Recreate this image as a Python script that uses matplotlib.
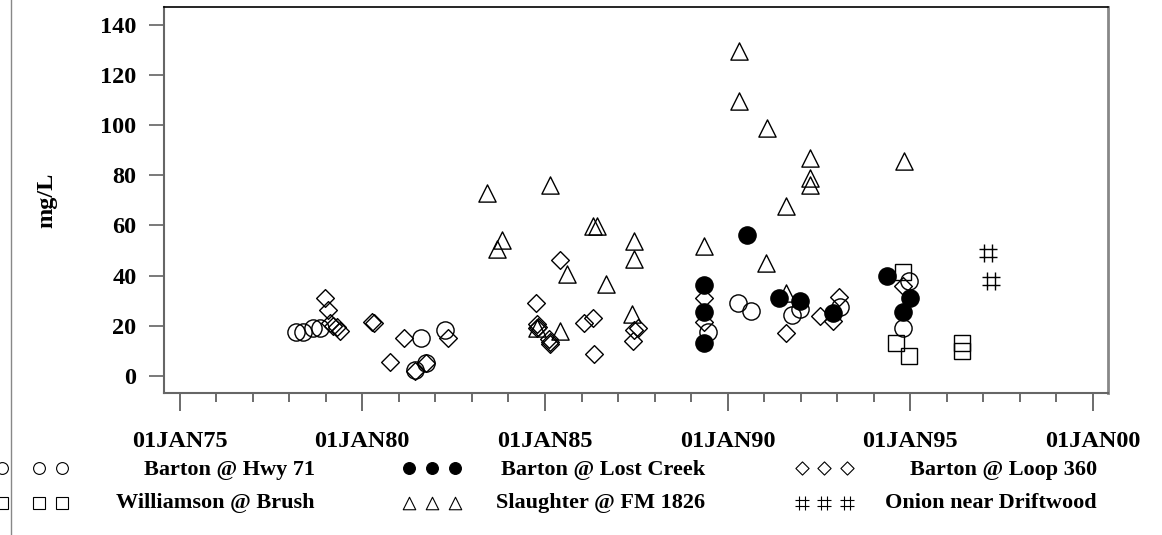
import matplotlib
matplotlib.use("Agg")
import matplotlib.pyplot as plt
from matplotlib.path import Path
from matplotlib.lines import Line2D

# ---------------- data (decimal years, mg/L) ----------------
hwy71_x = [1978.19, 1978.38, 1978.65, 1978.85, 1981.43, 1981.62, 1981.75, 1982.27,
           1989.45, 1990.27, 1990.64, 1991.76, 1991.98, 1993.07, 1994.80, 1994.97]
hwy71_y = [17.5, 17.5, 19.0, 19.2, 2.4, 15.0, 5.0, 18.3,
           17.5, 29.0, 26.0, 24.3, 26.8, 27.3, 19.0, 38.0]

lostcreek_x = [1989.35, 1989.35, 1989.36, 1990.52, 1991.41, 1991.98, 1992.87,
               1994.37, 1994.80, 1995.00]
lostcreek_y = [36.2, 25.6, 13.2, 56.0, 31.0, 30.0, 25.0, 40.0, 25.3, 31.0]

loop360_x = [1978.98, 1979.06, 1979.13, 1979.20, 1979.30, 1979.38, 1980.27, 1980.31,
             1980.75, 1981.13, 1981.43, 1981.75, 1982.35, 1984.75, 1984.77, 1984.80,
             1984.78, 1985.10, 1985.13, 1985.15, 1985.42, 1986.07, 1986.31, 1986.33,
             1987.42, 1987.45, 1987.55, 1989.35, 1989.36, 1991.61, 1992.52, 1992.87,
             1993.05, 1994.80]
loop360_y = [31.2, 26.2, 21.0, 19.7, 19.5, 18.0, 21.5, 21.0,
             5.3, 15.0, 1.7, 5.2, 15.0, 29.0, 20.5, 19.5,
             19.0, 14.5, 13.5, 12.5, 46.3, 21.0, 23.0, 8.8,
             13.8, 18.3, 19.2, 31.0, 21.6, 17.0, 24.0, 22.0,
             31.5, 35.7]

brush_x = [1994.60, 1994.80, 1994.95, 1996.41, 1996.41]
brush_y = [13.0, 41.2, 8.0, 13.0, 9.9]

slaughter_x = [1983.42, 1983.70, 1983.83, 1984.78, 1985.13, 1985.42, 1985.60, 1986.31,
               1986.42, 1986.66, 1987.37, 1987.45, 1987.45, 1989.36, 1990.30, 1990.30,
               1991.04, 1991.08, 1991.61, 1991.61, 1992.25, 1992.25, 1992.25, 1994.83]
slaughter_y = [72.8, 50.6, 54.0, 19.0, 76.2, 17.7, 40.7, 59.6,
               59.6, 36.7, 24.7, 53.8, 46.7, 51.9, 129.8, 109.8,
               44.9, 98.8, 67.8, 33.0, 86.8, 78.8, 76.2, 85.9]

onion_x = [1997.13, 1997.20]
onion_y = [48.9, 38.0]

series_labels = ["Barton @ Hwy 71", "Barton @ Lost Creek", "Barton @ Loop 360",
                 "Williamson @ Brush", "Slaughter @ FM 1826", "Onion near Driftwood"]

xtick_years = [1975, 1980, 1985, 1990, 1995, 2000]
xtick_labels = ["01JAN75", "01JAN80", "01JAN85", "01JAN90", "01JAN95", "01JAN00"]
ytick_values = [0, 20, 40, 60, 80, 100, 120, 140]
y_label = "mg/L"

# ---------------- markers ----------------
diamond = Path([(0, 1), (1, 0), (0, -1), (-1, 0), (0, 1)],
               [Path.MOVETO, Path.LINETO, Path.LINETO, Path.LINETO, Path.CLOSEPOLY])
triangle = Path([(-1, -1), (1, -1), (0, 1), (-1, -1)],
                [Path.MOVETO, Path.LINETO, Path.LINETO, Path.CLOSEPOLY])
h = 0.42
hashm = Path([(-h, -1), (-h, 1), (h, -1), (h, 1), (-1, -h), (1, -h), (-1, h), (1, h)],
             [Path.MOVETO, Path.LINETO] * 4)

FONT = "Liberation Serif"
plt.rcParams["font.family"] = [FONT, "DejaVu Serif"]
plt.rcParams["font.weight"] = "bold"

W, H = 1162, 535
fig = plt.figure(figsize=(W / 100, H / 100), dpi=100)
L, R, T, B = 164, 1107.7, 7, 393.3
ax = fig.add_axes([L / W, 1 - B / H, (R - L) / W, (B - T) / H])
ax.set_xlim(1974.573, 2000.402)
ax.set_ylim(-7.03, 147.2)

ms = 12.4
lw = 1.0
ax.plot(hwy71_x, hwy71_y, ls="none", marker="o", ms=ms, mfc="none", mec="black", mew=lw, zorder=3)
ax.plot(loop360_x, loop360_y, ls="none", marker=diamond, ms=ms * 1.03, mfc="none", mec="black", mew=lw, zorder=3)
ax.plot(brush_x, brush_y, ls="none", marker="s", ms=ms * 0.98, mfc="none", mec="black", mew=lw, zorder=3)
ax.plot(slaughter_x, slaughter_y, ls="none", marker=triangle, ms=ms, mfc="none", mec="black", mew=lw, zorder=3)
ax.plot(onion_x, onion_y, ls="none", marker=hashm, ms=ms, mfc="none", mec="black", mew=lw, zorder=3)
ax.plot(lostcreek_x, lostcreek_y, ls="none", marker="o", ms=ms, mfc="black", mec="black", mew=lw, zorder=4)

# axes styling
for s in ["left", "bottom"]:
    ax.spines[s].set_color("#666666")
    ax.spines[s].set_linewidth(1.5)
ax.spines["top"].set_color("black")
ax.spines["top"].set_linewidth(1.2)
ax.spines["right"].set_color("#888888")
ax.spines["right"].set_linewidth(2.0)

ax.set_xticks(xtick_years)
ax.set_xticklabels(xtick_labels)
ax.set_xticks(list(range(1975, 2001)), minor=True)
ax.set_yticks(ytick_values)
ax.set_yticklabels([str(v) for v in ytick_values])
ax.tick_params(axis="x", which="major", direction="out", length=13.2, width=1.1,
               color="#444444", pad=14, labelsize=17.5)
ax.tick_params(axis="x", which="minor", direction="out", length=6.8, width=1.1,
               color="#444444")
ax.tick_params(axis="y", which="major", direction="out", length=10.8, width=1.1,
               color="#555555", pad=9, labelsize=17.5)
for t in ax.get_xticklabels() + ax.get_yticklabels():
    t.set_fontweight("bold")

ax.set_ylabel(y_label, fontsize=17.5, fontweight="bold")
ax.yaxis.set_label_coords(-0.1134, 0.5)

# figure border line on the left
fig.add_artist(Line2D([11 / W, 11 / W], [0, 1], transform=fig.transFigure,
                      color="#888888", lw=1.0))

# ---------------- legend ----------------
lax = fig.add_axes([0, 0, 1, 1], facecolor="none")
lax.set_xlim(0, W)
lax.set_ylim(H, 0)
lax.axis("off")

leg_markers = [("o", "none", 8.5), ("o", "black", 8.5), (diamond, "none", 9.5),
               ("s", "none", 8.5), (triangle, "none", 9.0), (hashm, "none", 9.5)]
col_sym_x = [[2, 39, 62], [409, 432, 455], [802, 824, 847]]
col_text_x = [315, 705, 1097]
row_sym_y = [468, 503]
row_text_y = [470, 503]
for i, (lab, (mk, fc, sz)) in enumerate(zip(series_labels, leg_markers)):
    row, col = divmod(i, 3)
    lax.plot(col_sym_x[col], [row_sym_y[row]] * 3, ls="none", marker=mk, ms=sz,
             mfc=fc, mec="black", mew=0.8, clip_on=False)
    lax.text(col_text_x[col], row_text_y[row], lab, ha="right", va="center",
             fontsize=16, fontweight="bold")

fig.savefig("out.png", dpi=100)
